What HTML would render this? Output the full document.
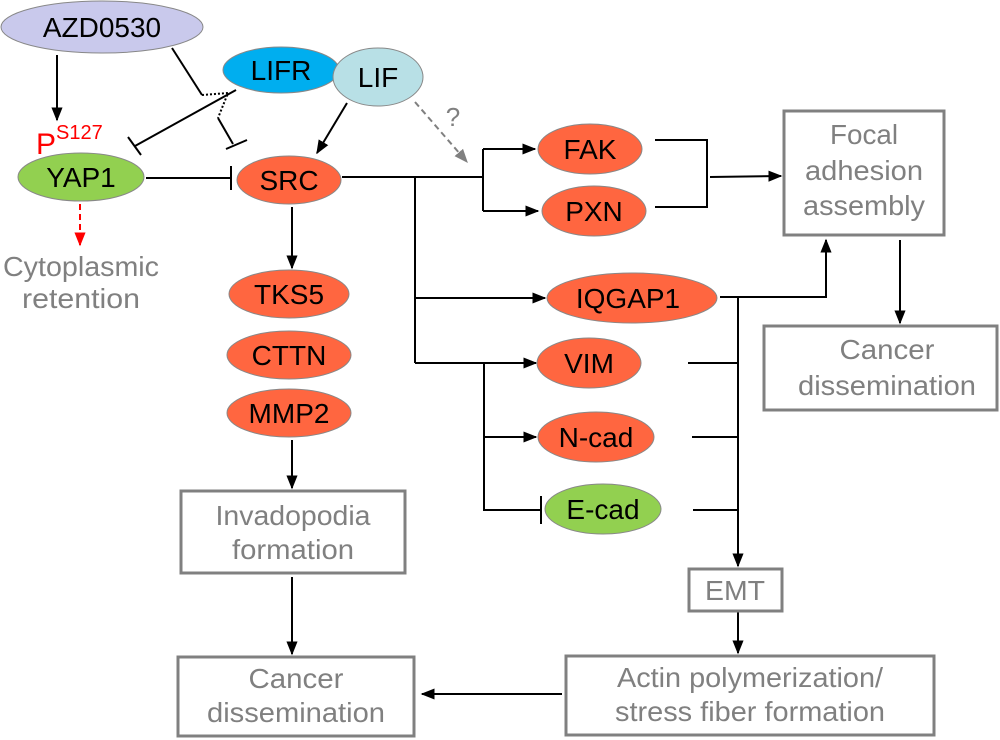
<!DOCTYPE html>
<html><head><meta charset="utf-8"><style>body{margin:0;background:#fff}svg{display:block}</style></head><body>
<svg width="1000" height="740" viewBox="0 0 1000 740" xmlns="http://www.w3.org/2000/svg" font-family="Liberation Sans, Arial, sans-serif">
<defs>
<marker id="ab" viewBox="0 0 10 10" refX="9" refY="5" markerWidth="14" markerHeight="14" orient="auto" markerUnits="userSpaceOnUse"><path d="M0,1L10,5L0,9z" fill="#000"/></marker>
<marker id="ag" viewBox="0 0 10 10" refX="9" refY="5" markerWidth="14" markerHeight="14" orient="auto" markerUnits="userSpaceOnUse"><path d="M0,1L10,5L0,9z" fill="#808080"/></marker>
<marker id="ar" viewBox="0 0 10 10" refX="9" refY="5" markerWidth="14" markerHeight="14" orient="auto" markerUnits="userSpaceOnUse"><path d="M0,1L10,5L0,9z" fill="#f00"/></marker>
</defs>
<g stroke="#000" stroke-width="2" fill="none">
<path d="M57,55V120" marker-end="url(#ab)"/>
<path d="M172,48L202,95"/>
<path d="M202,95L228,93L218,118" stroke-dasharray="2,2"/>
<path d="M218,118L233,144"/>
<path d="M226,149L247,140"/>
<path d="M236,90L135,146"/>
<path d="M128,137L141,155"/>
<path d="M347,103L317,153" marker-end="url(#ab)"/>
<path d="M146,178H231M231,166V190"/>
<path d="M342,177H483"/>
<path d="M483,149V211"/>
<path d="M483,149H535" marker-end="url(#ab)"/>
<path d="M483,211H538" marker-end="url(#ab)"/>
<path d="M415,177V363"/>
<path d="M415,298H545" marker-end="url(#ab)"/>
<path d="M415,363H536" marker-end="url(#ab)"/>
<path d="M484,363V510H541M541,496V524"/>
<path d="M484,437H536" marker-end="url(#ab)"/>
<path d="M655,140H707V207H655"/>
<path d="M710,177L781,176" marker-end="url(#ab)"/>
<path d="M720,297H826V240" marker-end="url(#ab)"/>
<path d="M738,297V566" marker-end="url(#ab)"/>
<path d="M688,363H738M692,437H738M693,510H738"/>
<path d="M900,240V323" marker-end="url(#ab)"/>
<path d="M738,612V653" marker-end="url(#ab)"/>
<path d="M562,694H422" marker-end="url(#ab)"/>
<path d="M292,207V268" marker-end="url(#ab)"/>
<path d="M292,440V488" marker-end="url(#ab)"/>
<path d="M292,577V654" marker-end="url(#ab)"/>
</g>
<path d="M415,102L467,162" stroke="#808080" stroke-width="2" stroke-dasharray="6,4" fill="none" marker-end="url(#ag)"/>
<text x="453" y="126" font-size="26" fill="#808080" text-anchor="middle">?</text>
<path d="M80,204V245" stroke="#f00" stroke-width="2" stroke-dasharray="6,4" fill="none" marker-end="url(#ar)"/>
<g stroke="#888" stroke-width="1">
<ellipse cx="102" cy="27" rx="101" ry="26" fill="#c9c9ec"/>
<ellipse cx="281" cy="70" rx="58" ry="23" fill="#00aeef"/>
<ellipse cx="378" cy="77" rx="45" ry="29" fill="#b8e0e6"/>
<ellipse cx="81" cy="177" rx="63" ry="24" fill="#92d050"/>
<ellipse cx="289" cy="180" rx="52" ry="24" fill="#ff6640"/>
<ellipse cx="289" cy="294" rx="60" ry="24" fill="#ff6640"/>
<ellipse cx="289" cy="355" rx="62" ry="24" fill="#ff6640"/>
<ellipse cx="289" cy="413" rx="62" ry="24" fill="#ff6640"/>
<ellipse cx="590" cy="149" rx="52" ry="25" fill="#ff6640"/>
<ellipse cx="594" cy="211" rx="52" ry="25" fill="#ff6640"/>
<ellipse cx="632" cy="298" rx="85" ry="25" fill="#ff6640"/>
<ellipse cx="589" cy="363" rx="52" ry="25" fill="#ff6640"/>
<ellipse cx="596" cy="437" rx="58" ry="25" fill="#ff6640"/>
<ellipse cx="603" cy="509" rx="58" ry="25" fill="#92d050"/>
</g>
<g font-size="28" text-anchor="middle" fill="#000">
<text x="102" y="37">AZD0530</text>
<text x="281" y="80">LIFR</text>
<text x="378" y="87">LIF</text>
<text x="81" y="187">YAP1</text>
<text x="289" y="190">SRC</text>
<text x="289" y="304">TKS5</text>
<text x="289" y="365">CTTN</text>
<text x="289" y="423">MMP2</text>
<text x="590" y="159">FAK</text>
<text x="594" y="221">PXN</text>
<text x="628" y="308">IQGAP1</text>
<text x="589" y="373">VIM</text>
<text x="596" y="447">N-cad</text>
<text x="603" y="519">E-cad</text>
</g>
<text x="36" y="154" font-size="30" fill="#f00">P<tspan font-size="20" dy="-15">S127</tspan></text>
<g fill="none" stroke="#808080" stroke-width="3">
<rect x="784" y="111" width="160" height="124"/>
<rect x="764" y="326" width="233" height="84"/>
<rect x="689" y="569" width="93" height="42"/>
<rect x="566" y="656" width="368" height="79"/>
<rect x="181" y="491" width="224" height="82"/>
<rect x="178" y="657" width="236" height="79"/>
</g>
<g font-size="28" text-anchor="middle" fill="#808080">
<text x="81" y="276" textLength="156" lengthAdjust="spacingAndGlyphs">Cytoplasmic</text>
<text x="81" y="308" textLength="118" lengthAdjust="spacingAndGlyphs">retention</text>
<text x="864" y="144" textLength="68" lengthAdjust="spacingAndGlyphs">Focal</text>
<text x="864" y="180" textLength="118" lengthAdjust="spacingAndGlyphs">adhesion</text>
<text x="864" y="215" textLength="122" lengthAdjust="spacingAndGlyphs">assembly</text>
<text x="887" y="359" textLength="95" lengthAdjust="spacingAndGlyphs">Cancer</text>
<text x="887" y="395" textLength="178" lengthAdjust="spacingAndGlyphs">dissemination</text>
<text x="735" y="600" textLength="60" lengthAdjust="spacingAndGlyphs">EMT</text>
<text x="750" y="687" textLength="266" lengthAdjust="spacingAndGlyphs">Actin polymerization/</text>
<text x="750" y="721" textLength="270" lengthAdjust="spacingAndGlyphs">stress fiber formation</text>
<text x="293" y="525" textLength="155" lengthAdjust="spacingAndGlyphs">Invadopodia</text>
<text x="293" y="559" textLength="122" lengthAdjust="spacingAndGlyphs">formation</text>
<text x="296" y="688" textLength="95" lengthAdjust="spacingAndGlyphs">Cancer</text>
<text x="296" y="722" textLength="178" lengthAdjust="spacingAndGlyphs">dissemination</text>
</g>
</svg>
</body></html>
